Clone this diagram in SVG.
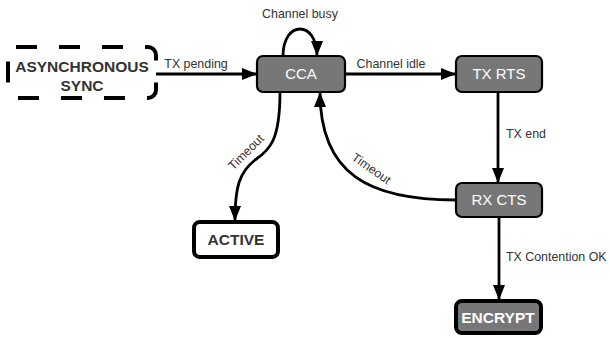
<svg xmlns="http://www.w3.org/2000/svg" width="610" height="338" viewBox="0 0 610 338">
  <defs>
    <marker id="arrow" markerWidth="15" markerHeight="12" refX="15" refY="6" orient="auto" markerUnits="userSpaceOnUse">
      <path d="M0,0 L15,6 L0,12 z" fill="#000"/>
    </marker>
    <style>
      .state { fill: #777; stroke: #000; stroke-width: 2.2; }
      .final { fill: #777; stroke: #000; stroke-width: 4; }
      .start { fill: #fff; stroke: #000; stroke-width: 4; }
      .async { fill: #fff; stroke: #000; stroke-width: 4; stroke-dasharray: 21 22; }
      .name { font-family: "Liberation Sans", Arial, sans-serif; font-size: 15px; fill: #fff; text-anchor: middle; }
      .bold { font-family: "Liberation Sans", Arial, sans-serif; font-size: 15.5px; font-weight: bold; text-anchor: middle; }
      .dark { fill: #333; }
      .light { fill: #fff; }
      .edge { fill: none; stroke: #000; stroke-width: 2.8; marker-end: url(#arrow); }
      .label { font-family: "Liberation Sans", Arial, sans-serif; font-size: 12.4px; fill: #333; }
    </style>
  </defs>

  <!-- transitions -->
  <g id="connectors">
    <path class="edge" d="M156,74 L257,74"/>
    <path class="edge" d="M283,56 C283,20 317,20 317,56"/>
    <path class="edge" d="M345,74 L456,74"/>
    <path class="edge" d="M498,92 L498,183"/>
    <path class="edge" d="M499,217 L499,300"/>
    <path class="edge" d="M280,92 C280,140 270,150 255,160 C240,172 235,185 235,221"/>
    <path class="edge" d="M456,200 C370,200 320,175 320,92"/>

    <text class="label" x="196" y="68" text-anchor="middle">TX pending</text>
    <text class="label" x="300" y="18" text-anchor="middle">Channel busy</text>
    <text class="label" x="391" y="68" text-anchor="middle">Channel idle</text>
    <text class="label" x="506" y="138">TX end</text>
    <text class="label" x="506" y="261">TX Contention OK</text>
    <text class="label" x="0" y="0" text-anchor="middle" transform="translate(249,155) rotate(-45)">Timeout</text>
    <text class="label" x="0" y="0" text-anchor="middle" transform="translate(369,172) rotate(35)">Timeout</text>
  </g>

  <g id="async-sync">
    <rect class="async" x="8" y="47" width="148" height="51" rx="8"/>
    <text class="bold dark" x="82" y="72">ASYNCHRONOUS</text>
    <text class="bold dark" x="82" y="91">SYNC</text>
  </g>

  <g id="cca">
    <rect class="state" x="257" y="56" width="88" height="36" rx="6"/>
    <text class="name" x="301" y="79">CCA</text>
  </g>

  <g id="tx-rts">
    <rect class="state" x="456" y="56" width="86" height="36" rx="6"/>
    <text class="name" x="499" y="79">TX RTS</text>
  </g>

  <g id="rx-cts">
    <rect class="state" x="456" y="183" width="86" height="34" rx="6"/>
    <text class="name" x="499" y="205">RX CTS</text>
  </g>

  <g id="active">
    <rect class="start" x="194" y="222" width="84" height="35" rx="6"/>
    <text class="bold dark" x="236" y="245">ACTIVE</text>
  </g>

  <g id="encrypt">
    <rect class="final" x="456" y="301" width="85" height="32" rx="6"/>
    <text class="bold light" x="498" y="323">ENCRYPT</text>
  </g>
</svg>
